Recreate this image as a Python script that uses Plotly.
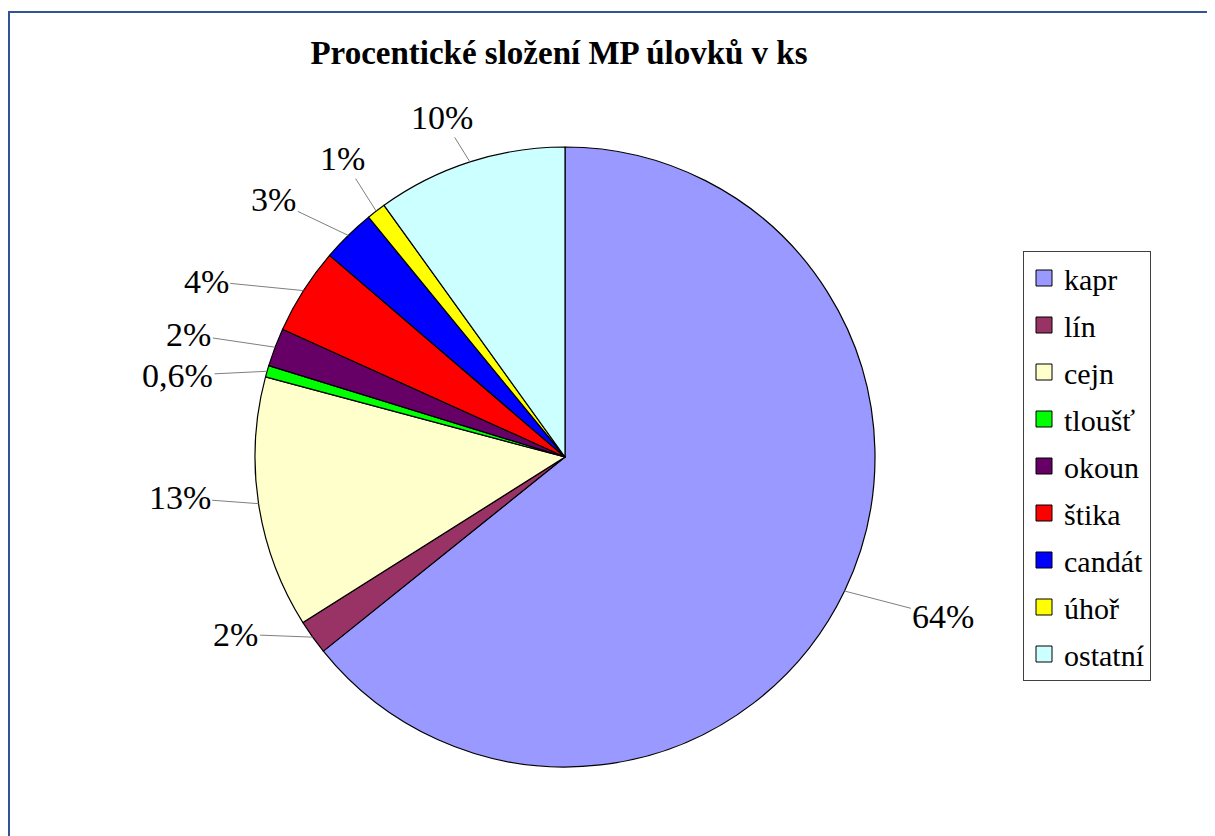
import math
import plotly.graph_objects as go

# ---- data ----
categories = ["kapr", "lín", "cejn", "tloušť", "okoun", "štika", "candát", "úhoř", "ostatní"]
values = [64.1, 1.8, 13.1, 0.6, 2.0, 4.5, 2.8, 1.0, 9.9]
pct_labels = ["64%", "2%", "13%", "0,6%", "2%", "4%", "3%", "1%", "10%"]
title_text = "Procentické složení MP úlovků v ks"

# ---- styles ----
colors = ["#9999FF", "#993366", "#FFFFCC", "#00FF00", "#660066",
          "#FF0000", "#0000FF", "#FFFF00", "#CCFFFF"]
# label text offsets (px) relative to slice edge midpoint
label_dx = [88, -67, -67, -78, -75, -87, -66, -26, -24]
label_dy = [31, 4, -4, 1, -17, -16, -44, -62, -56]

W, H = 1215, 836
OFF = 8                          # page body margin
CX, CY, R = 565, 457, 310        # pie center / radius in window px
RX, RY = 322, 298                # reference ellipse (for label placement)
FONT = "Liberation Serif, Times New Roman, serif"


def px(x):
    return (x - OFF) / W


def py(y):
    return 1 - (y - OFF) / H


fig = go.Figure()

fig.add_trace(go.Pie(
    labels=categories, values=values, sort=False, direction="clockwise",
    rotation=0, textinfo="none", showlegend=False,
    marker=dict(colors=colors, line=dict(color="black", width=1.2)),
    domain=dict(x=[px(CX - R), px(CX + R)], y=[py(CY + R), py(CY - R)]),
    hoverinfo="label+percent",
))

# legend entries
for name, col in zip(categories, colors):
    fig.add_trace(go.Scatter(
        x=[None], y=[None], mode="markers", name=name, legendgroup=name,
        marker=dict(symbol="square", size=16, color=col, line=dict(color="black", width=1)),
    ))

# percentage labels with leader lines, positioned from slice mid-angles
total = sum(values)
cum = 0.0
annotations = []
for v, lab, dx, dy in zip(values, pct_labels, label_dx, label_dy):
    mid = (cum + v / 2) / total * 2 * math.pi
    cum += v
    hx = CX + R * math.sin(mid)
    hy = CY - R * math.cos(mid)
    ex = CX + RX * math.sin(mid) + dx
    ey = CY - RY * math.cos(mid) + dy
    annotations.append(dict(
        x=px(hx), y=py(hy), xref="paper", yref="paper",
        ax=ex - hx, ay=ey - hy, text=lab, showarrow=True, arrowhead=0,
        arrowwidth=1, arrowcolor="#7f7f7f", standoff=0, startstandoff=0,
        font=dict(family=FONT, size=34, color="black"),
    ))

fig.update_layout(
    width=W, height=H, autosize=False,
    margin=dict(l=0, r=0, t=0, b=0),
    paper_bgcolor="white", plot_bgcolor="white",
    title=dict(text="<b>" + title_text + "</b>", x=px(559), xanchor="center",
               y=py(52), yanchor="middle", yref="paper",
               font=dict(family=FONT, size=33, color="black")),
    xaxis=dict(visible=False), yaxis=dict(visible=False),
    legend=dict(x=px(1023), y=py(251), xanchor="left", yanchor="top",
                font=dict(family=FONT, size=30, color="black"),
                bordercolor="#404040", borderwidth=1, bgcolor="white",
                tracegroupgap=5, itemsizing="trace"),
    annotations=annotations,
    shapes=[dict(type="rect", xref="paper", yref="paper",
                 x0=px(9), x1=1.05, y0=-0.05, y1=py(12),
                 line=dict(color="#2F5597", width=2), fillcolor="rgba(0,0,0,0)")],
)

fig.write_html("out.html")
